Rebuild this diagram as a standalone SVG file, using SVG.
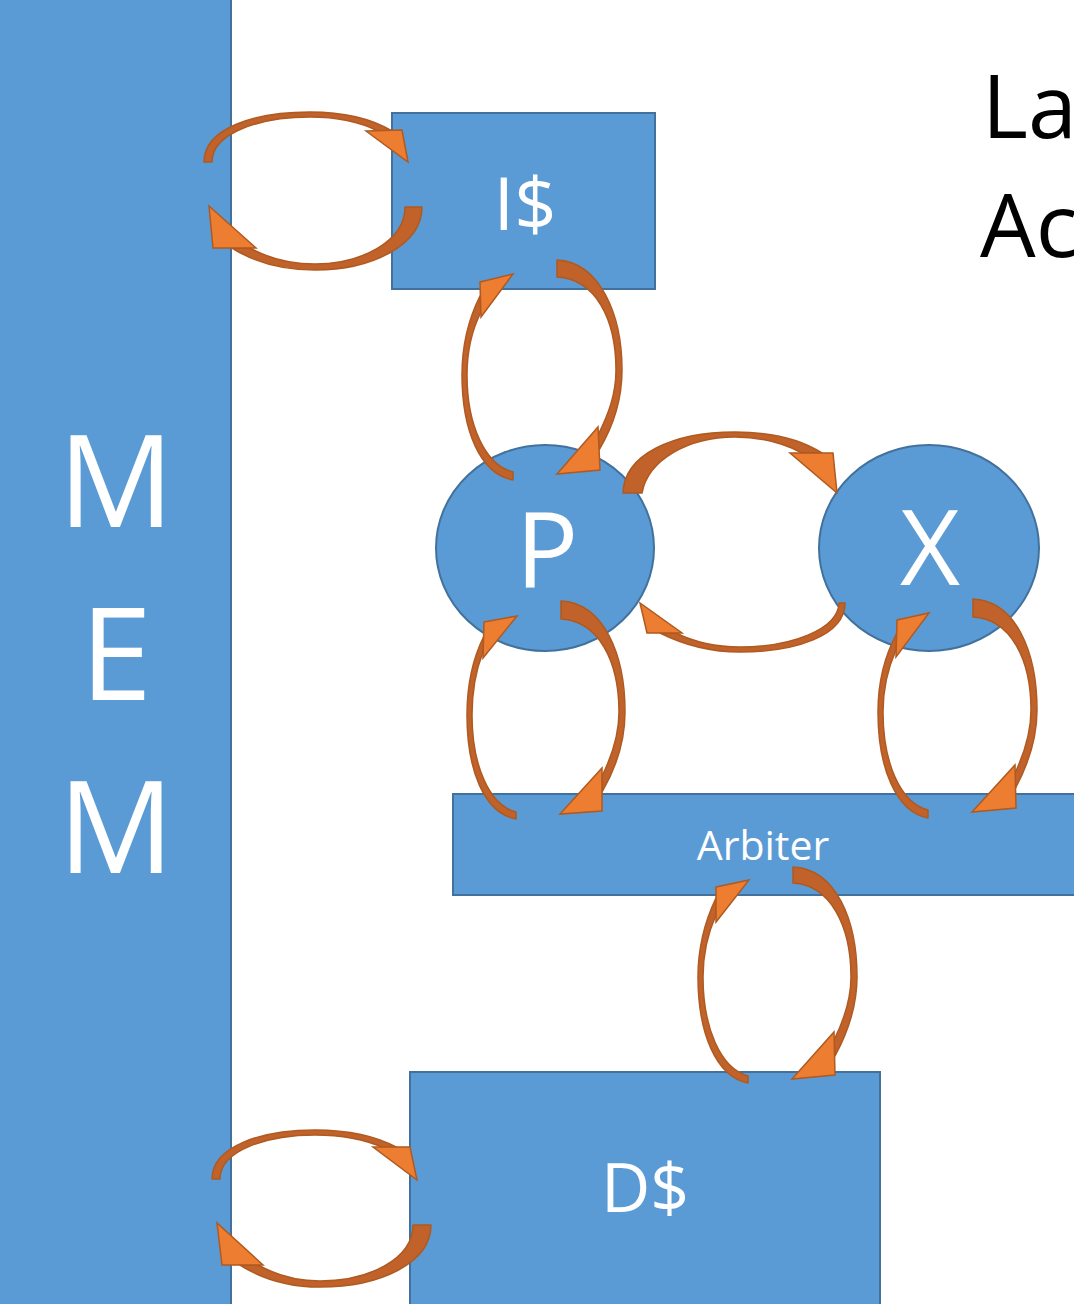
<svg xmlns="http://www.w3.org/2000/svg" width="1074" height="1304" viewBox="0 0 1074 1304">
<style>
.node{fill:#5B9BD5;stroke:#41719C;stroke-width:2}
.lbl{font-family:"Open Sans","Liberation Sans",sans-serif;fill:#FFFFFF;text-anchor:middle}
.band{fill:#C0622A;stroke:#AE5A21;stroke-width:1.5;stroke-linejoin:round}
.head{fill:#ED7D31;stroke:#AE5A21;stroke-width:1.5;stroke-linejoin:miter}
.title{font-family:"Open Sans","Liberation Sans",sans-serif;fill:#000000;font-size:88px}
</style>
<rect width="1074" height="1304" fill="#FFFFFF"/>
<g id="MEM">
<rect class="node" x="-2" y="-2" width="233" height="1310"/>
<text class="lbl" x="116" y="527" font-size="129">M</text>
<text class="lbl" x="116" y="700" font-size="129">E</text>
<text class="lbl" x="116" y="873" font-size="129">M</text>
</g>
<g id="Icache">
<rect class="node" x="392" y="113" width="263" height="176"/>
<text class="lbl" x="525" y="230" font-size="74">I$</text>
</g>
<g id="P">
<ellipse class="node" cx="545" cy="548" rx="109" ry="103"/>
<text class="lbl" x="547" y="587" font-size="104">P</text>
</g>
<g id="X">
<ellipse class="node" cx="929" cy="548" rx="110" ry="103"/>
<text class="lbl" x="930" y="585" font-size="104">X</text>
</g>
<g id="Arbiter">
<rect class="node" x="453" y="794" width="630" height="101"/>
<text class="lbl" x="763" y="860" font-size="41">Arbiter</text>
</g>
<g id="Dcache">
<rect class="node" x="410" y="1072" width="470" height="240"/>
<text class="lbl" x="645" y="1212" font-size="68">D$</text>
</g>
<g id="title">
<text class="title" x="982" y="138">Lab</text>
<text class="title" x="980" y="257">Ac</text>
</g>
<g id="connectors">
<path class="band" d="M204,162 C204,128 255,112 310,112 C345,112 372,119 392,131 L378,131 C360,122 338,117 310,117 C262,117 212,132 212,162 Z"/>
<polygon class="head" points="366,131 402,130 408,162"/>
<path class="band" d="M422,207 C422,245 372,270 315,270 C283,270 254,262 232,248 L250,248 C268,258 290,264 315,264 C360,264 405,242 405,207 Z"/>
<polygon class="head" points="209,206 213,248 256,248"/>
<path class="band" d="M557,260 C600,262 622,315 622,370 C622,398 614,425 599,450 L598,435 C608,415 616,395 616,370 C616,318 595,279 557,277 Z"/>
<polygon class="head" points="598,427 600,470 557,474"/>
<path class="band" d="M513,480 C480,474 462,430 462,375 C462,345 469,318 480,296 L481,312 C472,330 467,350 467,375 C467,425 485,465 513,472 Z"/>
<polygon class="head" points="480,282 513,274 481,317"/>
<path class="band" d="M623,493 C624,455 672,432 735,432 C772,432 802,440 822,453 L802,453 C783,443 760,437 735,437 C688,437 648,460 642,493 Z"/>
<polygon class="head" points="790,453 833,453 837,493"/>
<path class="band" d="M845,603 C845,636 795,652 740,652 C712,652 684,645 660,633 L676,633 C694,642 716,647 740,647 C790,647 838,630 839,603 Z"/>
<polygon class="head" points="640,603 647,633 682,633"/>
<path class="band" d="M561,601 C604,603 625,655 625,712 C625,740 616,768 602,792 L602,776 C612,756 619,735 619,712 C619,660 598,621 561,619 Z"/>
<polygon class="head" points="602,768 602,811 560,814"/>
<path class="band" d="M516,819 C484,813 467,770 467,715 C467,685 473,658 484,636 L483,652 C476,670 472,692 472,715 C472,765 489,805 516,812 Z"/>
<polygon class="head" points="484,622 517,616 483,658"/>
<path class="band" d="M973,599 C1016,601 1037,652 1037,710 C1037,738 1028,765 1015,789 L1015,773 C1024,754 1031,733 1031,710 C1031,658 1010,619 973,617 Z"/>
<polygon class="head" points="1015,765 1016,808 972,812"/>
<path class="band" d="M928,818 C896,812 878,768 878,712 C878,682 885,655 897,633 L896,650 C888,668 883,690 883,712 C883,762 900,803 928,810 Z"/>
<polygon class="head" points="897,620 929,613 896,657"/>
<path class="band" d="M793,867 C836,869 857,920 857,977 C857,1005 848,1032 835,1056 L834,1040 C844,1020 851,1000 851,977 C851,925 830,885 793,883 Z"/>
<polygon class="head" points="834,1032 835,1075 792,1079"/>
<path class="band" d="M748,1083 C716,1077 698,1033 698,977 C698,948 705,921 716,898 L716,915 C708,933 703,955 703,977 C703,1027 720,1068 748,1076 Z"/>
<polygon class="head" points="716,887 749,880 716,922"/>
<path class="band" d="M212,1179 C212,1146 262,1130 315,1130 C350,1130 378,1137 398,1148 L384,1148 C366,1140 342,1135 315,1135 C268,1135 220,1150 220,1179 Z"/>
<polygon class="head" points="373,1147 410,1147 417,1180"/>
<path class="band" d="M431,1225 C431,1263 380,1287 320,1287 C290,1287 262,1279 240,1265 L258,1265 C276,1275 297,1281 320,1281 C367,1281 413,1260 413,1225 Z"/>
<polygon class="head" points="217,1223 222,1265 263,1265"/>
</g>
</svg>
